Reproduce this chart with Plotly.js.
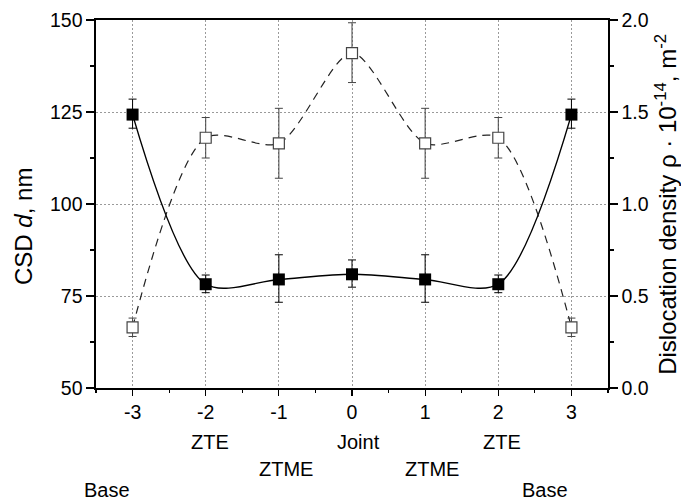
<!DOCTYPE html>
<html><head><meta charset="utf-8">
<script src="https://cdn.plot.ly/plotly-3.0.1.min.js"></script>
<style>html,body{margin:0;padding:0;background:#fff;}#chart{width:681px;height:501px;}</style>
</head><body><div id="chart"></div>
<script>
// ---- data ----
const positions = [-3, -2, -1, 0, 1, 2, 3];
const tickLabels = ['-3', '-2', '-1', '0', '1', '2', '3'];
const zoneLabels = ['Base', 'ZTE', 'ZTME', 'Joint', 'ZTME', 'ZTE', 'Base'];

// CSD d, nm (filled squares, left axis)
const csd = [124.3, 78.2, 79.5, 80.9, 79.5, 78.2, 124.3];
const csdErrPlus = [4.2, 2.5, 6.7, 3.9, 6.7, 2.5, 4.2];
const csdErrMinus = [3.7, 2.3, 6.2, 3.5, 6.2, 2.3, 3.7];

// Dislocation density rho, 1e14 m^-2 (open squares, right axis)
const rho = [0.33, 1.36, 1.33, 1.82, 1.33, 1.36, 0.33];
const rhoErrPlus = [0.05, 0.11, 0.19, 0.165, 0.19, 0.11, 0.05];
const rhoErrMinus = [0.05, 0.11, 0.19, 0.16, 0.19, 0.11, 0.05];

// ---- styling ----
const FONT = 'Liberation Sans, Arial, Helvetica, sans-serif';
const tickFont = {family: FONT, size: 19.5, color: '#000'};
const zoneFont = {family: FONT, size: 20, color: '#000'};
const titleFont = {family: FONT, size: 24, color: '#000'};

const traces = [
  {
    x: positions, y: csd, type: 'scatter', mode: 'lines+markers', name: 'CSD',
    line: {shape: 'spline', smoothing: 0.85, color: '#000', width: 1.4},
    marker: {symbol: 'square', size: 12, color: '#000', line: {width: 0}},
    error_y: {type: 'data', symmetric: false, array: csdErrPlus, arrayminus: csdErrMinus,
              color: '#000', thickness: 1, width: 4},
    hoverinfo: 'skip', showlegend: false
  },
  {
    x: positions, y: rho, yaxis: 'y2', type: 'scatter', mode: 'lines+markers', name: 'rho',
    line: {shape: 'spline', smoothing: 0.8, color: '#222', width: 1.2, dash: '8px,6px'},
    marker: {symbol: 'square', size: 11, color: '#fff', line: {color: '#444', width: 1.2}},
    error_y: {type: 'data', symmetric: false, array: rhoErrPlus, arrayminus: rhoErrMinus,
              color: '#444', thickness: 1, width: 4},
    hoverinfo: 'skip', showlegend: false
  }
];

// zone labels under the axis (row level and horizontal nudge per zone name)
const zoneRow = {Base: 3, ZTE: 1, Joint: 1, ZTME: 2};
const rowY = {1: -0.1467, 2: -0.2201, 3: -0.2772};
const zoneShift = {Base: -26, ZTE: 4, Joint: 6, ZTME: 7};

const annotations = zoneLabels.map((t, i) => ({
  text: t, x: positions[i], xref: 'x', y: rowY[zoneRow[t]], yref: 'paper',
  xanchor: 'center', yanchor: 'middle', xshift: zoneShift[t],
  showarrow: false, font: zoneFont
}));
annotations.push({
  text: 'CSD <i>d</i>, nm', textangle: -90, xref: 'paper', yref: 'paper',
  x: -0.1426, y: 0.4402, xanchor: 'center', yanchor: 'middle',
  showarrow: false, font: titleFont
});
annotations.push({
  text: 'Dislocation density ρ · 10<sup>-14</sup>, m<sup>-2</sup>', textangle: -90,
  xref: 'paper', yref: 'paper', x: 1.113, y: 0.5, xanchor: 'center', yanchor: 'middle',
  showarrow: false, font: titleFont
});

const gridStyle = {showgrid: true, gridcolor: '#9a9a9a', gridwidth: 1, griddash: '2px,2px'};

const layout = {
  width: 681, height: 501,
  margin: {l: 96, r: 73, t: 20, b: 113, pad: 0},
  paper_bgcolor: '#fff', plot_bgcolor: '#fff',
  font: tickFont,
  showlegend: false,
  xaxis: Object.assign({
    range: [-3.5, 3.5], tickmode: 'array', tickvals: positions, ticktext: tickLabels,
    ticks: 'outside', ticklen: 6, tickwidth: 1.2, tickcolor: '#000',
    showline: true, linecolor: '#000', linewidth: 1.6, mirror: true,
    zeroline: false, tickfont: tickFont,
    minor: {tickmode: 'linear', tick0: -3.5, dtick: 0.5, ticks: 'outside', ticklen: 3, tickcolor: '#000', showgrid: false}
  }, gridStyle),
  yaxis: Object.assign({
    range: [50, 150], tickmode: 'linear', tick0: 50, dtick: 25,
    ticks: 'outside', ticklen: 8, tickwidth: 1.2, tickcolor: '#000',
    showline: true, linecolor: '#000', linewidth: 1.6,
    zeroline: false, tickfont: tickFont,
    minor: {tickmode: 'linear', tick0: 50, dtick: 12.5, ticks: 'outside', ticklen: 4, tickcolor: '#000', showgrid: false}
  }, gridStyle),
  yaxis2: {
    overlaying: 'y', side: 'right', range: [0, 2], tickmode: 'linear', tick0: 0, dtick: 0.5,
    tickformat: '.1f', showgrid: false, zeroline: false,
    ticks: 'outside', ticklen: 8, tickwidth: 1.2, tickcolor: '#000',
    showline: true, linecolor: '#000', linewidth: 1.6, tickfont: tickFont,
    minor: {tickmode: 'linear', tick0: 0, dtick: 0.25, ticks: 'outside', ticklen: 4, tickcolor: '#000', showgrid: false}
  },
  annotations: annotations
};

Plotly.newPlot('chart', traces, layout, {staticPlot: true, displayModeBar: false});
</script>
</body></html>
